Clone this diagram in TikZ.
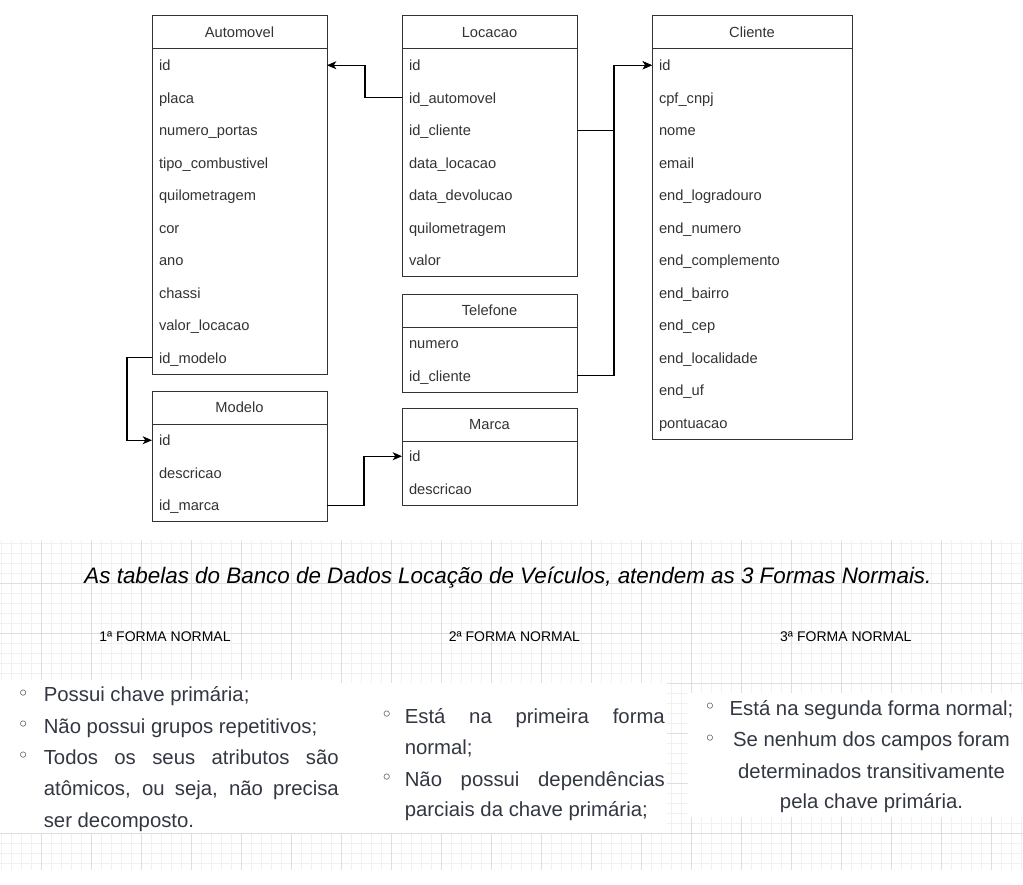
\documentclass[tikz,border=0pt]{standalone}
\usepackage{fontspec}
\setmainfont{Liberation Sans}
\newfontfamily\bulletfont{DejaVu Sans}
\usetikzlibrary{arrows.meta}
\definecolor{tablegray}{RGB}{51,51,51}
\definecolor{bodytxt}{RGB}{50,55,66}
\definecolor{gridminor}{RGB}{241,241,241}
\definecolor{gridmajor}{RGB}{222,222,222}

\tikzset{every picture/.style={line width=0.75pt}}
\tikzset{
  hdr/.style={draw=tablegray, anchor=north west, minimum width=#1, minimum height=24.75pt,
    inner sep=0pt, outer sep=0pt, font=\fontsize{11}{13}\selectfont, text=tablegray},
  field/.style={anchor=north west, text width=#1, minimum height=24.375pt, inner xsep=5.25pt,
    inner ysep=0pt, outer sep=0pt, text height=9.5pt, text depth=1.4pt, align=left,
    font=\fontsize{11}{13}\selectfont, text=tablegray},
  tbl/.style={draw=tablegray},
  fk/.style={draw=black, line width=0.9pt, -{Stealth[length=7pt,width=6pt,inset=2pt]}},
  fnhead/.style={anchor=base, inner sep=0pt, font=\fontsize{10.5}{12}\selectfont, text=black},
  bodyline/.style={anchor=base west, inner sep=0pt, font=\fontsize{15.25}{18}\selectfont, text=bodytxt},
  midline/.style={bodyline, anchor=base},
  dot/.style={anchor=base, inner sep=0pt, font=\bulletfont\fontsize{15}{17}\selectfont, text=bodytxt}
}

\begin{document}
\begin{tikzpicture}[x=0.75pt,y=0.75pt,yscale=-1]
    \fill[white] (0,0) rectangle (1023,884);
    \useasboundingbox (0,0) rectangle (1023,884);

    % tables
    \node[hdr=131.25pt] (auto) at (152,16) {Automovel};
    \foreach \f [count=\i] in {id,placa,numero\_portas,tipo\_combustivel,quilometragem,cor,ano,chassi,valor\_locacao,id\_modelo}
        \node[field=120.75pt] (auto\i) at (152,{49+32.5*(\i-1)}) {\f};
    \draw[tbl] (auto.south west) rectangle (auto.south east |- auto10.south);

    \node[hdr=131.25pt] (loc) at (402,16) {Locacao};
    \foreach \f [count=\i] in {id,id\_automovel,id\_cliente,data\_locacao,data\_devolucao,quilometragem,valor}
        \node[field=120.75pt] (loc\i) at (402,{49+32.5*(\i-1)}) {\f};
    \draw[tbl] (loc.south west) rectangle (loc.south east |- loc7.south);

    \node[hdr=150pt] (cli) at (652,16) {Cliente};
    \foreach \f [count=\i] in {id,cpf\_cnpj,nome,email,end\_logradouro,end\_numero,end\_complemento,end\_bairro,end\_cep,end\_localidade,end\_uf,pontuacao}
        \node[field=139.5pt] (cli\i) at (652,{49+32.5*(\i-1)}) {\f};
    \draw[tbl] (cli.south west) rectangle (cli.south east |- cli12.south);

    \node[hdr=131.25pt] (tel) at (402,294) {Telefone};
    \foreach \f [count=\i] in {numero,id\_cliente}
        \node[field=120.75pt] (tel\i) at (402,{327+32.5*(\i-1)}) {\f};
    \draw[tbl] (tel.south west) rectangle (tel.south east |- tel2.south);

    \node[hdr=131.25pt] (mod) at (152,391) {Modelo};
    \foreach \f [count=\i] in {id,descricao,id\_marca}
        \node[field=120.75pt] (mod\i) at (152,{424+32.5*(\i-1)}) {\f};
    \draw[tbl] (mod.south west) rectangle (mod.south east |- mod3.south);

    \node[hdr=131.25pt] (mar) at (402,408) {Marca};
    \foreach \f [count=\i] in {id,descricao}
        \node[field=120.75pt] (mar\i) at (402,{440+32.5*(\i-1)}) {\f};
    \draw[tbl] (mar.south west) rectangle (mar.south east |- mar2.south);

    % foreign keys
    \draw[fk] (loc2.west) -- ++(-37,0) |- (auto1.east);
    \draw[fk] (loc3.east) -- ++(37,0) |- (cli1.west);
    \draw[fk] (tel2.east) -- ++(37,0) |- (cli1.west);
    \draw[fk] (auto10.west) -- ++(-25,0) |- (mod1.west);
    \draw[fk] (mod3.east) -- ++(37,0) |- (mar1.west);

    % grid
    \foreach \gx in {1.7,11.7,...,1021.7}
        \draw[gridminor] (\gx,540) -- (\gx,870);
    \foreach \gy in {543.3,553.3,...,863.3}
        \draw[gridminor] (0,\gy) -- (1023,\gy);
    \foreach \gx in {41.7,91.7,...,991.7}
        \draw[gridmajor] (\gx,540) -- (\gx,870);
    \foreach \gy in {583.3,633.3,...,833.3}
        \draw[gridmajor] (0,\gy) -- (1023,\gy);
    \fill[white] (0,680) rectangle (340,833);
    \fill[white] (340,683) rectangle (667,833);
    \fill[white] (688,693) rectangle (1023,817);

    \node[anchor=base, inner sep=0pt, font=\fontsize{16.8}{20}\selectfont\itshape] (title) at (508,583.3)
        {As tabelas do Banco de Dados Locação de Veículos, atendem as 3 Formas Normais.};

    \node[fnhead] (fn1) at (165,641.7) {1ª FORMA NORMAL};
    \node[fnhead] (fn2) at (514.4,641.7) {2ª FORMA NORMAL};
    \node[fnhead] (fn3) at (845.8,641.7) {3ª FORMA NORMAL};

    % 1FN
    \node[dot] (d1a) at (23.3,700) {◦};
    \node[dot] (d1b) at (23.3,731.5) {◦};
    \node[dot] (d1c) at (23.3,762.5) {◦};
    \node[bodyline] (l1a) at (43.3,701.5) {Possui chave primária;};
    \node[bodyline] (l1b) at (43.3,733) {Não possui grupos repetitivos;};
    \node[bodyline] (l1c) at (43.3,764) {\makebox[221.25pt][s]{Todos os seus atributos são}};
    \node[bodyline] (l1d) at (43.3,795.5) {\makebox[221.25pt][s]{atômicos, ou seja, não precisa}};
    \node[bodyline] (l1e) at (43.3,827) {ser decomposto.};

    % 2FN
    \node[dot] (d2a) at (386.7,721.8) {◦};
    \node[dot] (d2b) at (386.7,784.5) {◦};
    \node[bodyline] (l2a) at (404.3,723.3) {\makebox[195pt][s]{Está na primeira forma}};
    \node[bodyline] (l2b) at (404.3,754.5) {normal;};
    \node[bodyline] (l2c) at (404.3,786) {\makebox[195pt][s]{Não possui dependências}};
    \node[bodyline] (l2d) at (404.3,816.7) {parciais da chave primária;};

    % 3FN
    \node[dot] (d3a) at (710,713.5) {◦};
    \node[dot] (d3b) at (710,745.2) {◦};
    \node[midline] (l3a) at (871.5,715) {Está na segunda forma normal;};
    \node[midline] (l3b) at (871.5,746.7) {Se nenhum dos campos foram};
    \node[midline] (l3c) at (871.5,778.3) {determinados transitivamente};
    \node[midline] (l3d) at (871.5,808.3) {pela chave primária.};
\end{tikzpicture}
\end{document}
